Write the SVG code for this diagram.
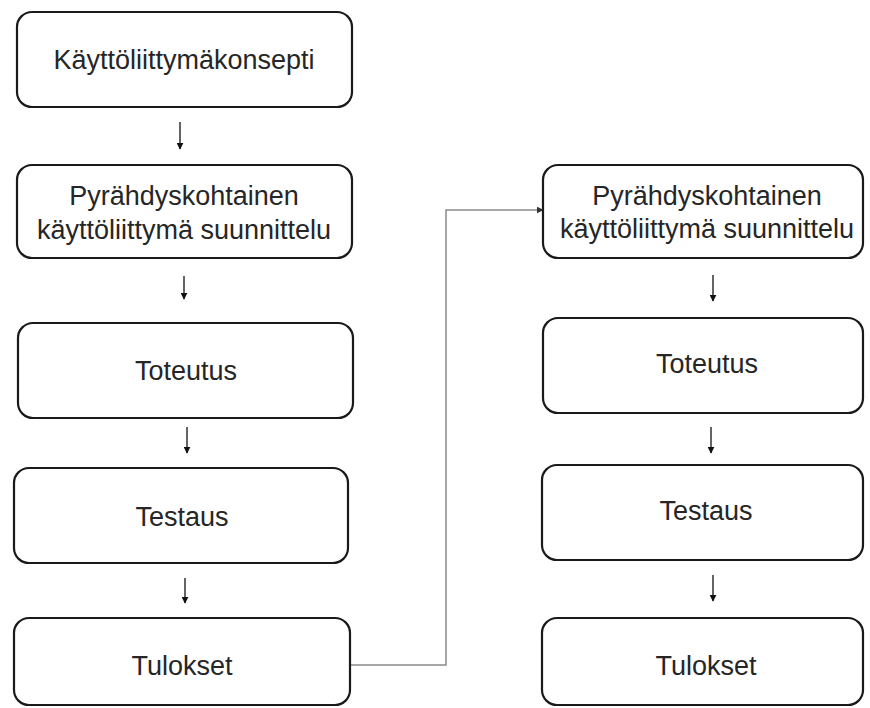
<svg xmlns="http://www.w3.org/2000/svg" width="870" height="708" viewBox="0 0 870 708">
<defs>
<style>
.box{fill:#fff;stroke:#1a1a1a;stroke-width:2.2}
.t{font-family:"Liberation Sans",Arial,sans-serif;font-size:27px;fill:#262626;text-anchor:middle}
.arr{stroke:#111;stroke-width:1.3;fill:none;marker-end:url(#ah)}
.conn{stroke:#8a8a8a;stroke-width:1.5;fill:none;marker-end:url(#ah2)}
</style>
<marker id="ah" viewBox="0 0 10 10" refX="9" refY="5" markerWidth="7" markerHeight="7" markerUnits="userSpaceOnUse" orient="auto">
<path d="M0,0 L10,5 L0,10 z" fill="#111"/>
</marker>
<marker id="ah2" viewBox="0 0 10 10" refX="9" refY="5" markerWidth="7" markerHeight="7" markerUnits="userSpaceOnUse" orient="auto">
<path d="M0,0 L10,5 L0,10 z" fill="#333"/>
</marker>
</defs>
<rect width="870" height="708" fill="#fff"/>
<g id="connectors">
<line class="arr" x1="180" y1="122" x2="180" y2="149"/>
<line class="arr" x1="184" y1="276" x2="184" y2="299"/>
<line class="arr" x1="187" y1="427" x2="187" y2="453"/>
<line class="arr" x1="185" y1="578" x2="185" y2="603"/>
<line class="arr" x1="713" y1="275" x2="713" y2="301"/>
<line class="arr" x1="711" y1="427" x2="711" y2="453"/>
<line class="arr" x1="713" y1="575" x2="713" y2="601"/>
<polyline class="conn" points="351,665 446,665 446,210 543,210"/>
</g>
<g id="n1"><rect class="box" x="17" y="12" width="335" height="95" rx="15"/><text class="t" x="184" y="69">Käyttöliittymäkonsepti</text></g>
<g id="n2"><rect class="box" x="17" y="165" width="335" height="93" rx="15"/><text class="t" x="184" y="205">Pyrähdyskohtainen</text><text class="t" x="184" y="239">käyttöliittymä suunnittelu</text></g>
<g id="n3"><rect class="box" x="18" y="323" width="335" height="95" rx="15"/><text class="t" x="186" y="380">Toteutus</text></g>
<g id="n4"><rect class="box" x="14" y="468" width="334" height="95" rx="15"/><text class="t" x="182" y="526">Testaus</text></g>
<g id="n5"><rect class="box" x="14" y="618" width="336" height="87" rx="15"/><text class="t" x="182" y="675">Tulokset</text></g>
<g id="r1"><rect class="box" x="543" y="165" width="320" height="93" rx="15"/><text class="t" x="707" y="205">Pyrähdyskohtainen</text><text class="t" x="707" y="238">käyttöliittymä suunnittelu</text></g>
<g id="r2"><rect class="box" x="543" y="318" width="320" height="95" rx="15"/><text class="t" x="707" y="373">Toteutus</text></g>
<g id="r3"><rect class="box" x="542" y="465" width="321" height="95" rx="15"/><text class="t" x="706" y="520">Testaus</text></g>
<g id="r4"><rect class="box" x="542" y="618" width="321" height="87" rx="15"/><text class="t" x="706" y="675">Tulokset</text></g>
</svg>
